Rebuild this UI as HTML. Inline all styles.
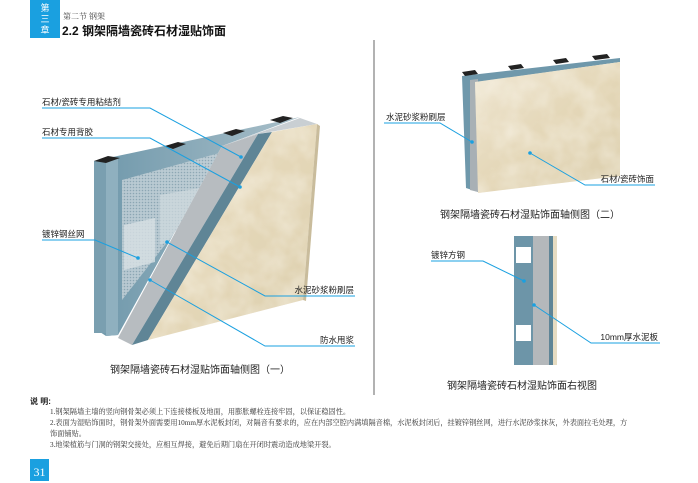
<!DOCTYPE html>
<html><head><meta charset="utf-8"><style>
body{margin:0;width:698px;height:483px;background:#fff;overflow:hidden;font-family:"Liberation Sans","Noto Sans CJK SC",sans-serif;}
</style></head><body>
<svg width="698" height="483" viewBox="0 0 698 483" xmlns="http://www.w3.org/2000/svg" style="position:absolute;left:0;top:0">
<defs>
<linearGradient id="st" x1="0" y1="0" x2="1" y2="1"><stop offset="0" stop-color="#efe6d2"/><stop offset="0.5" stop-color="#e4d7b8"/><stop offset="1" stop-color="#dccfae"/></linearGradient>
<linearGradient id="bf" x1="0" y1="0" x2="1" y2="0"><stop offset="0" stop-color="#6f98ab"/><stop offset="1" stop-color="#a9bfc9"/></linearGradient>
<pattern id="mesh" width="3" height="3" patternUnits="userSpaceOnUse"><rect width="3" height="3" fill="#c8d4da"/><circle cx="1.5" cy="1.5" r="0.8" fill="#8fa7b3"/></pattern>
<filter id="mot" x="0" y="0" width="1" height="1"><feTurbulence type="fractalNoise" baseFrequency="0.04" numOctaves="3" seed="3"/><feColorMatrix values="0 0 0 0 0.94  0 0 0 0 0.90  0 0 0 0 0.80  0 0 0 -1.6 1.1"/><feComposite in2="SourceGraphic" operator="in"/></filter>
</defs>
<!-- header -->
<rect x="30" y="0" width="30" height="38" fill="#1aa0e0"/>
<text x="45" y="11" font-size="9" fill="#fff" text-anchor="middle">第</text>
<text x="45" y="22" font-size="9" fill="#fff" text-anchor="middle">三</text>
<text x="45" y="33" font-size="9" fill="#fff" text-anchor="middle">章</text>
<text x="63" y="19" font-size="8" fill="#444" font-family="Liberation Serif,Noto Serif CJK SC,serif">第二节 钢架</text>
<text x="62" y="35" font-size="12" fill="#111" font-weight="bold">2.2 钢架隔墙瓷砖石材湿贴饰面</text>
<line x1="374" y1="40" x2="374" y2="395" stroke="#666" stroke-width="1"/>

<!-- left diagram -->
<polygon points="94,161 300,117 222,146 118,335 106,336 94,328" fill="url(#bf)"/>
<polygon points="122,180 230,150 200,200 122,300" fill="url(#mesh)" opacity="0.8"/>
<polygon points="124,225 155,218 155,262 124,270" fill="#d7e0e4" opacity="0.8"/>
<polygon points="160,195 200,188 170,240 160,245" fill="#d0dade" opacity="0.7"/>
<rect x="94" y="161" width="12" height="172" fill="#7a9fb0"/>
<polygon points="106,161 118,158 118,335 106,336" fill="#8fb0bf"/>
<polygon points="94,161 108,156 120,158 106,163" fill="#222"/>
<polygon points="165,146 178,142 186,144 173,149" fill="#222"/>
<polygon points="223,133 236,129 245,131 232,136" fill="#222"/>
<polygon points="270,120 283,116 293,118 280,123" fill="#222"/>
<polygon points="222,146 258,134 132,345 118,338" fill="#b7bcc0"/>
<polygon points="222,146 300,118 317,124 258,134" fill="#c9cfd3"/>
<polygon points="258,134 272,132 148,340 132,345" fill="#5f8596"/>
<polygon points="272,132 317,124 303,300 148,340" fill="url(#st)"/>
<polygon points="272,132 317,124 303,300 148,340" fill="#fff" filter="url(#mot)" opacity="0.6"/>
<polygon points="317,124 320,126 306,301 303,300" fill="#c9bc9c"/>

<!-- right top diagram -->
<polygon points="462,76 620,58 620,62 478,82 478,192 466,188" fill="#6f98ab"/>
<polygon points="470,80 478,79 478,192 470,190" fill="#a8b0b5"/>
<polygon points="462,72 475,70 478,74 465,76" fill="#222"/>
<polygon points="508,66 521,64 524,68 511,70" fill="#222"/>
<polygon points="553,60 566,58 569,62 556,64" fill="#222"/>
<polygon points="592,56 607,54 610,58 595,60" fill="#222"/>
<polygon points="475,82 620,62 620,176 478,193" fill="url(#st)"/>
<polygon points="475,82 620,62 620,176 478,193" fill="#fff" filter="url(#mot)" opacity="0.6"/>

<!-- right view -->
<rect x="514" y="236" width="19" height="129" fill="#6d95a8"/>
<rect x="516" y="247" width="15" height="16" fill="#fff"/>
<rect x="516" y="325" width="15" height="16" fill="#fff"/>
<rect x="533" y="236" width="16" height="129" fill="#b4b8bb"/>
<rect x="549" y="236" width="4" height="129" fill="#5f8596"/>
<rect x="553" y="236" width="4" height="129" fill="#e6dcc2"/>

<!-- connectors on top -->
<g stroke="#1aa0e0" stroke-width="1" fill="none">
<polyline points="42,108 150,108 241,157"/>
<polyline points="42,138 150,138 240,187"/>
<polyline points="42,240 95,240 138,258"/>
<polyline points="355,296 265,296 167,242"/>
<polyline points="355,346 265,346 150,280"/>
<polyline points="384,123 440,123 472,142"/>
<polyline points="655,185 585,185 530,153"/>
<polyline points="431,261 483,261 524,281"/>
<polyline points="660,343 591,343 534,305"/>
</g>
<g fill="#1aa0e0"><circle cx="241" cy="157" r="1.8"/><circle cx="240" cy="187" r="1.8"/><circle cx="138" cy="258" r="1.8"/><circle cx="167" cy="242" r="1.8"/><circle cx="150" cy="280" r="1.8"/><circle cx="472" cy="142" r="1.8"/><circle cx="530" cy="153" r="1.8"/><circle cx="524" cy="281" r="1.8"/><circle cx="534" cy="305" r="1.8"/></g>
<g font-size="8.5" fill="#222">
<text x="42" y="105">石材/瓷砖专用粘结剂</text>
<text x="42" y="135">石材专用背胶</text>
<text x="42" y="237">镀锌钢丝网</text>
<text x="354" y="293" text-anchor="end">水泥砂浆粉刷层</text>
<text x="354" y="343" text-anchor="end">防水甩浆</text>
<text x="386" y="120">水泥砂浆粉刷层</text>
<text x="654" y="182" text-anchor="end">石材/瓷砖饰面</text>
<text x="431" y="258">镀锌方钢</text>
<text x="658" y="340" text-anchor="end">10mm厚水泥板</text>
</g>
<g font-size="10" fill="#222" text-anchor="middle">
<text x="200" y="373">钢架隔墙瓷砖石材湿贴饰面轴侧图（一）</text>
<text x="530" y="218">钢架隔墙瓷砖石材湿贴饰面轴侧图（二）</text>
<text x="522" y="389">钢架隔墙瓷砖石材湿贴饰面右视图</text>
</g>

<!-- notes -->
<text x="30" y="404" font-size="8" font-weight="bold" fill="#222">说 明:</text>
<g font-size="7.2" fill="#333" font-family="Liberation Serif,Noto Serif CJK SC,serif">
<text x="50" y="414">1.钢架隔墙主墙的竖向钢骨架必须上下连接楼板及地面，用膨胀螺栓连接牢固，以保证稳固性。</text>
<text x="50" y="425">2.表面为湿贴饰面时，钢骨架外面需要用10mm厚水泥板封闭，对隔音有要求的，应在内部空腔内满填隔音棉，水泥板封闭后，挂镀锌钢丝网，进行水泥砂浆抹灰，外表面拉毛处理，方</text>
<text x="50" y="436">饰面铺贴。</text>
<text x="50" y="447">3.地梁植筋与门洞的钢架交接处，应相互焊接，避免后期门扇在开闭时震动造成地梁开裂。</text>
</g>
<rect x="30" y="459" width="19" height="22" fill="#1aa0e0"/>
<text x="39.5" y="476" font-size="12" fill="#fff" text-anchor="middle" font-family="Liberation Serif,serif">31</text>
</svg>
</body></html>
